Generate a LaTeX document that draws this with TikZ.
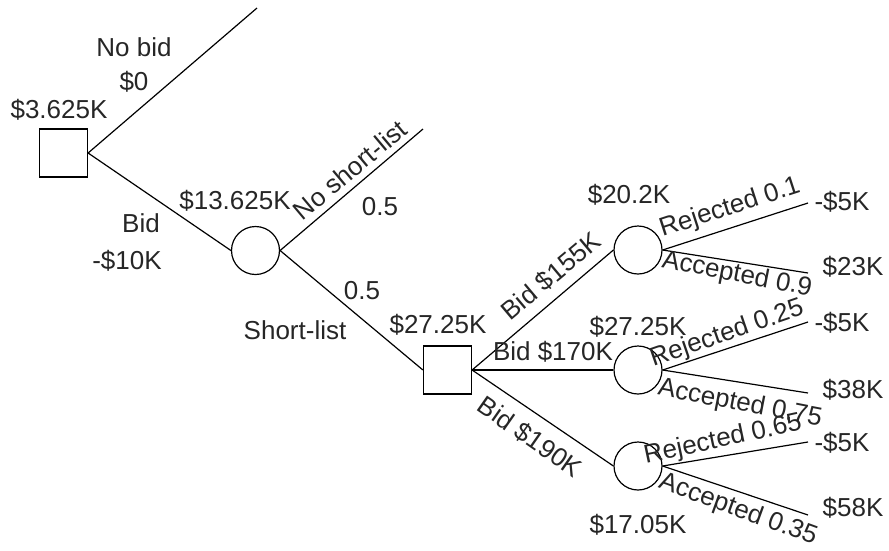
\documentclass[tikz,border=0pt]{standalone}
\usepackage{fontspec}
\setmainfont{Liberation Sans}
\begin{document}
\begin{tikzpicture}[x=1pt,y=-1pt,
  decision/.style={draw,rectangle,minimum size=48pt,inner sep=0pt,line width=1.2pt},
  chance/.style={draw,circle,minimum size=48pt,inner sep=0pt,line width=1.2pt},
  branch/.style={line width=1.2pt},
  lbl/.style={inner sep=0pt,font=\fontsize{26}{30}\selectfont,text=black!85}]
\useasboundingbox (0,0) rectangle (889,550);
% nodes
\node[decision] (root) at (63.5,153) {};
\node[chance] (c1) at (255.5,250.5) {};
\node[decision] (d2) at (447.5,370) {};
\node[chance] (ca) at (638,250) {};
\node[chance] (cb) at (638,370) {};
\node[chance] (cc) at (638,466) {};
% ends
\coordinate (nb) at (257,8);
\coordinate (nsl) at (423,129);
\coordinate (ar) at (808,203);
\coordinate (aa) at (808,273);
\coordinate (br) at (808,322);
\coordinate (ba) at (808,393);
\coordinate (cr) at (808,442);
\coordinate (cacc) at (808,515);
% connectors
\draw[branch] (root.east) -- (nb);
\draw[branch] (root.east) -- (c1.west);
\draw[branch] (c1.east) -- (nsl);
\draw[branch] (c1.east) -- (d2.west);
\draw[branch] (d2.east) -- (ca.west);
\draw[branch] (d2.east) -- (cb.west);
\draw[branch] (d2.east) -- (cc.west);
\draw[branch] (ca.east) -- (ar);
\draw[branch] (ca.east) -- (aa);
\draw[branch] (cb.east) -- (br);
\draw[branch] (cb.east) -- (ba);
\draw[branch] (cc.east) -- (cr);
\draw[branch] (cc.east) -- (cacc);
% labels
\node[lbl] (t1) at (59,110) {\$3.625K};
\node[lbl] (t2) at (134,47) {No bid};
\node[lbl] (t3) at (134,82) {\$0};
\node[lbl] (t4) at (141,223) {Bid};
\node[lbl] (t5) at (127,261) {-\$10K};
\node[lbl] (t6) at (235,201) {\$13.625K};
\node[lbl,rotate=40] (t7) at (350,170) {No short-list};
\node[lbl] (t8) at (380,207) {0.5};
\node[lbl] (t9) at (362,291) {0.5};
\node[lbl] (t10) at (295,330) {Short-list};
\node[lbl] (t11) at (438,325) {\$27.25K};
\node[lbl,rotate=40] (t12) at (551,276) {Bid \$155K};
\node[lbl] (t13) at (553,352) {Bid \$170K};
\node[lbl,rotate=-35] (t14) at (530,437) {Bid \$190K};
\node[lbl] (t15) at (629,195) {\$20.2K};
\node[lbl] (t16) at (638,327) {\$27.25K};
\node[lbl] (t17) at (638,525) {\$17.05K};
\node[lbl,rotate=18] (t18) at (730,208) {Rejected 0.1};
\node[lbl,rotate=-11] (t19) at (737,275) {Accepted 0.9};
\node[lbl,rotate=19] (t20) at (727,334) {Rejected 0.25};
\node[lbl,rotate=-11] (t21) at (740,404) {Accepted 0.75};
\node[lbl,rotate=12] (t22) at (723,440) {Rejected 0.65};
\node[lbl,rotate=-20] (t23) at (738,510) {Accepted 0.35};
\node[lbl] (p1) at (842,202) {-\$5K};
\node[lbl] (p2) at (853,267) {\$23K};
\node[lbl] (p3) at (842,323) {-\$5K};
\node[lbl] (p4) at (853,390) {\$38K};
\node[lbl] (p5) at (842,443) {-\$5K};
\node[lbl] (p6) at (853,508) {\$58K};
\end{tikzpicture}
\end{document}
